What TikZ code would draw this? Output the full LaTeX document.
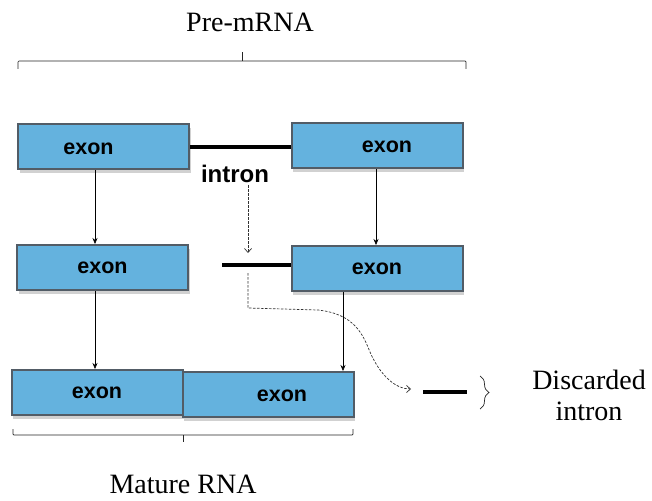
\documentclass[tikz,border=0pt]{standalone}
\usepackage{fontspec}
\setmainfont{Liberation Serif}
\newfontfamily\hv{Liberation Sans}
\usetikzlibrary{arrows.meta,shadows,decorations.pathreplacing}
\definecolor{exonfill}{RGB}{100,178,222}
\definecolor{exonedge}{RGB}{82,92,102}
\tikzset{
  exonbox/.style={draw=exonedge, line width=2pt, fill=exonfill, minimum width=171pt, minimum height=45pt, inner sep=0pt,
    drop shadow={shadow xshift=1.5pt, shadow yshift=-3.5pt, opacity=0.18, fill=black}},
  exonlbl/.style={font=\hv\bfseries\fontsize{21.5}{24}\selectfont, text=black},
  intronlbl/.style={font=\hv\bfseries\fontsize{24}{26}\selectfont, text=black},
  arr/.style={-{Stealth[length=6pt,width=5pt]}, line width=0.6pt, black},
  dasharr/.style={-{Straight Barb[length=4pt,width=7pt]}, line width=0.7pt, draw=black!80, dash pattern=on 2.5pt off 1.5pt},
  intronline/.style={line width=4pt, black},
  bracket/.style={line width=0.7pt, draw=black!85},
  serifbig/.style={font=\fontsize{28}{31}\selectfont}
}
\begin{document}
\begin{tikzpicture}[x=1pt,y=-1pt]
\useasboundingbox (0,0) rectangle (652,500);
% titles
\node[serifbig] (pre) at (250,22) {Pre-mRNA};
\node[serifbig] (mat) at (183,484) {Mature RNA};
\node[serifbig, align=center] (disc) at (589,395) {Discarded\\intron};
% brackets
\draw[bracket, rounded corners=1pt] (18,69) -- (18,61) -- (466,61) -- (466,69);
\draw[bracket] (242,61) -- (242,52);
\draw[bracket, rounded corners=1pt] (13,429) -- (13,435) -- (353,435) -- (353,429);
\draw[bracket] (183,435) -- (183,442);
% boxes
\node[exonbox, label={[exonlbl, xshift=-15pt, yshift=-2pt]center:exon}] (A) at (103.5,146.5) {};
\node[exonbox, label={[exonlbl, xshift=10pt, yshift=-1pt]center:exon}] (B) at (377,145.5) {};
\node[exonbox, label={[exonlbl]center:exon}] (C) at (102.5,267.5) {};
\node[exonbox, label={[exonlbl]center:exon}] (D) at (377,268.5) {};
\node[exonbox, label={[exonlbl]center:exon}] (E) at (97,392.5) {};
\node[exonbox, label={[exonlbl, xshift=14pt, yshift=-1pt]center:exon}] (F) at (268,394.5) {};
% intron
\draw[intronline] (A.east) -- (A.east -| B.west);
\node[intronlbl] (intr) at (235,174) {intron};
\coordinate (i2) at (222,265);
\draw[intronline] (i2) -- (i2 -| D.west);
\coordinate (dtop) at (248,185);
\coordinate (dbot) at (248,253);
\draw[dasharr] (dtop) -- (dbot);
% discarded
\coordinate (q1) at (423,392);
\coordinate (q2) at (467,392);
\draw[intronline] (q1) -- (q2);
\coordinate (c0) at (248,273);
\draw[dasharr] (c0) -- (248,308) -- (318,310) .. controls (355,314) and (363,335) .. (370,352) .. controls (380,375) and (395,389) .. (411,389);
\draw[bracket, decorate, decoration={brace, amplitude=9pt}] (480,376) -- (480,409);
% arrows
\draw[arr] ([xshift=-8.5pt]A.south) -- ([xshift=-8.5pt]A.south |- C.north);
\draw[arr] ([xshift=-1pt]B.south) -- ([xshift=-1pt]B.south |- D.north);
\draw[arr] ([xshift=-7.5pt]C.south) -- ([xshift=-7.5pt]C.south |- E.north);
\draw[arr] ([xshift=-34pt]D.south) -- ([xshift=-34pt]D.south |- F.north);
\end{tikzpicture}
\end{document}
